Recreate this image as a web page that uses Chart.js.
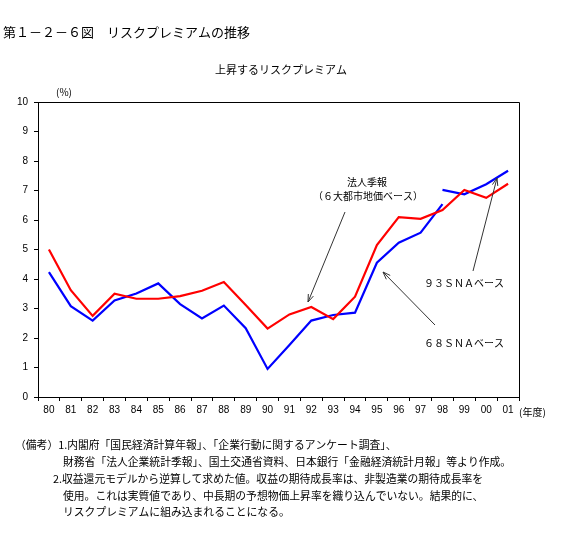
<!DOCTYPE html>
<html>
<head>
<meta charset="utf-8">
<script src="https://cdn.jsdelivr.net/npm/chart.js@4/dist/chart.umd.min.js"></script>
<style>
  html, body { margin: 0; padding: 0; background: #fff; }
  canvas { display: block; }
</style>
</head>
<body>
<canvas id="riesgoChart" width="567" height="533"></canvas>
<script>
// 年度ラベル
const years = ['80', '81', '82', '83', '84', '85', '86', '87', '88', '89', '90',
               '91', '92', '93', '94', '95', '96', '97', '98', '99', '00', '01'];

// 法人季報（6大都市地価ベース）
const hojinKiho = [5.0, 3.62, 2.75, 3.5, 3.33, 3.33, 3.42, 3.6, 3.9, 3.12, 2.32,
                   2.8, 3.05, 2.64, 3.4, 5.15, 6.1, 6.04, 6.34, 7.02, 6.75, 7.23];

// 68SNAベース (80-98)
const sna68 = [4.23, 3.08, 2.59, 3.27, 3.51, 3.85, 3.15, 2.66, 3.1, 2.33, 0.95,
               1.76, 2.59, 2.78, 2.86, 4.55, 5.23, 5.57, 6.54, null, null, null];

// 93SNAベース (98-01)
const sna93 = [null, null, null, null, null, null, null, null, null, null, null,
               null, null, null, null, null, null, null, 7.02, 6.87, 7.21, 7.67];

const yTicks = [0, 1, 2, 3, 4, 5, 6, 7, 8, 9, 10];

const jpFont = '"Noto Sans CJK JP", sans-serif';

function arrow(ctx, x1, y1, x2, y2) {
    const ang = Math.atan2(y2 - y1, x2 - x1);
    const len = 8, spread = 0.35;
    ctx.beginPath();
    ctx.moveTo(x1, y1);
    ctx.lineTo(x2, y2);
    ctx.moveTo(x2 - len * Math.cos(ang - spread), y2 - len * Math.sin(ang - spread));
    ctx.lineTo(x2, y2);
    ctx.lineTo(x2 - len * Math.cos(ang + spread), y2 - len * Math.sin(ang + spread));
    ctx.stroke();
}

// textos, marco y flechas
const extrasPlugin = {
    id: 'extras',
    afterDraw(chart) {
        const ctx = chart.ctx;
        const area = chart.chartArea;
        ctx.save();

        // marco superior y derecho
        ctx.strokeStyle = '#000';
        ctx.lineWidth = 1;
        ctx.beginPath();
        ctx.moveTo(area.left, area.top + 0.5);
        ctx.lineTo(area.right + 0.5, area.top + 0.5);
        ctx.lineTo(area.right + 0.5, area.bottom);
        ctx.stroke();

        ctx.fillStyle = '#000';
        ctx.textBaseline = 'middle';

        ctx.font = '13px ' + jpFont;
        ctx.textAlign = 'left';
        ctx.fillText('第１－２－６図　リスクプレミアムの推移', 3, 32);

        ctx.font = '11px ' + jpFont;
        ctx.textAlign = 'center';
        ctx.fillText('上昇するリスクプレミアム', 281, 70);

        ctx.font = '10px ' + jpFont;
        ctx.textAlign = 'left';
        ctx.fillText('(%)', 56, 92);
        ctx.fillText('(年度)', 519, 412);

        // anotaciones
        ctx.textAlign = 'center';
        ctx.fillText('法人季報', 367, 182);
        ctx.fillText('（６大都市地価ベース）', 368, 196);
        ctx.textAlign = 'left';
        ctx.fillText('９３ＳＮＡベース', 424, 283);
        ctx.fillText('６８ＳＮＡベース', 424, 343);

        ctx.strokeStyle = '#333';
        ctx.lineWidth = 1;
        arrow(ctx, 345, 212, 308, 302);
        arrow(ctx, 473, 271, 497, 178);
        arrow(ctx, 435, 325, 383, 272);

        // notas
        ctx.font = '10.8px ' + jpFont;
        ctx.textAlign = 'left';
        ctx.fillText('（備考）1.内閣府「国民経済計算年報」、「企業行動に関するアンケート調査」、', 15, 445);
        ctx.fillText('財務省「法人企業統計季報」、国土交通省資料、日本銀行「金融経済統計月報」等より作成。', 63, 462);
        ctx.fillText('2.収益還元モデルから逆算して求めた値。収益の期待成長率は、非製造業の期待成長率を', 53, 479);
        ctx.fillText('使用。これは実質値であり、中長期の予想物価上昇率を織り込んでいない。結果的に、', 63, 496);
        ctx.fillText('リスクプレミアムに組み込まれることになる。', 63, 512);

        ctx.restore();
    }
};

const ctxRiesgo = document.getElementById('riesgoChart').getContext('2d');
const riesgoChart = new Chart(ctxRiesgo, {
    type: 'line',
    data: {
        labels: years,
        datasets: [{
            label: '法人季報（6大都市地価ベース）',
            data: hojinKiho,
            borderColor: '#ff0000',
            borderWidth: 2.2,
            pointRadius: 0,
            tension: 0,
            fill: false
        }, {
            label: '68SNAベース',
            data: sna68,
            borderColor: '#0000ff',
            borderWidth: 2.2,
            pointRadius: 0,
            tension: 0,
            fill: false,
            spanGaps: false
        }, {
            label: '93SNAベース',
            data: sna93,
            borderColor: '#0000ff',
            borderWidth: 2.2,
            pointRadius: 0,
            tension: 0,
            fill: false,
            spanGaps: false
        }]
    },
    options: {
        responsive: false,
        animation: false,
        layout: { padding: { left: 0, right: 48, top: 102, bottom: 112 } },
        plugins: {
            legend: { display: false },
            title: { display: false },
            tooltip: { enabled: false }
        },
        scales: {
            x: {
                type: 'category',
                offset: true,
                grid: { offset: true, drawOnChartArea: false, tickLength: 4, color: '#000' },
                border: { display: true, color: '#000', width: 1 },
                ticks: { color: '#000', font: { size: 10, family: 'Liberation Sans' }, padding: 3, maxRotation: 0, autoSkip: false },
                afterFit: function(scale) { scale.height = 24; }
            },
            y: {
                min: 0,
                max: 10,
                afterBuildTicks: function(scale) { scale.ticks = yTicks.map(v => ({ value: v })); },
                grid: { drawOnChartArea: false, tickLength: 4, color: '#000' },
                border: { display: true, color: '#000', width: 1 },
                ticks: { color: '#000', font: { size: 10, family: 'Liberation Sans' }, padding: 6 },
                afterFit: function(scale) { scale.width = 38; }
            }
        }
    },
    plugins: [extrasPlugin]
});
</script>
</body>
</html>
